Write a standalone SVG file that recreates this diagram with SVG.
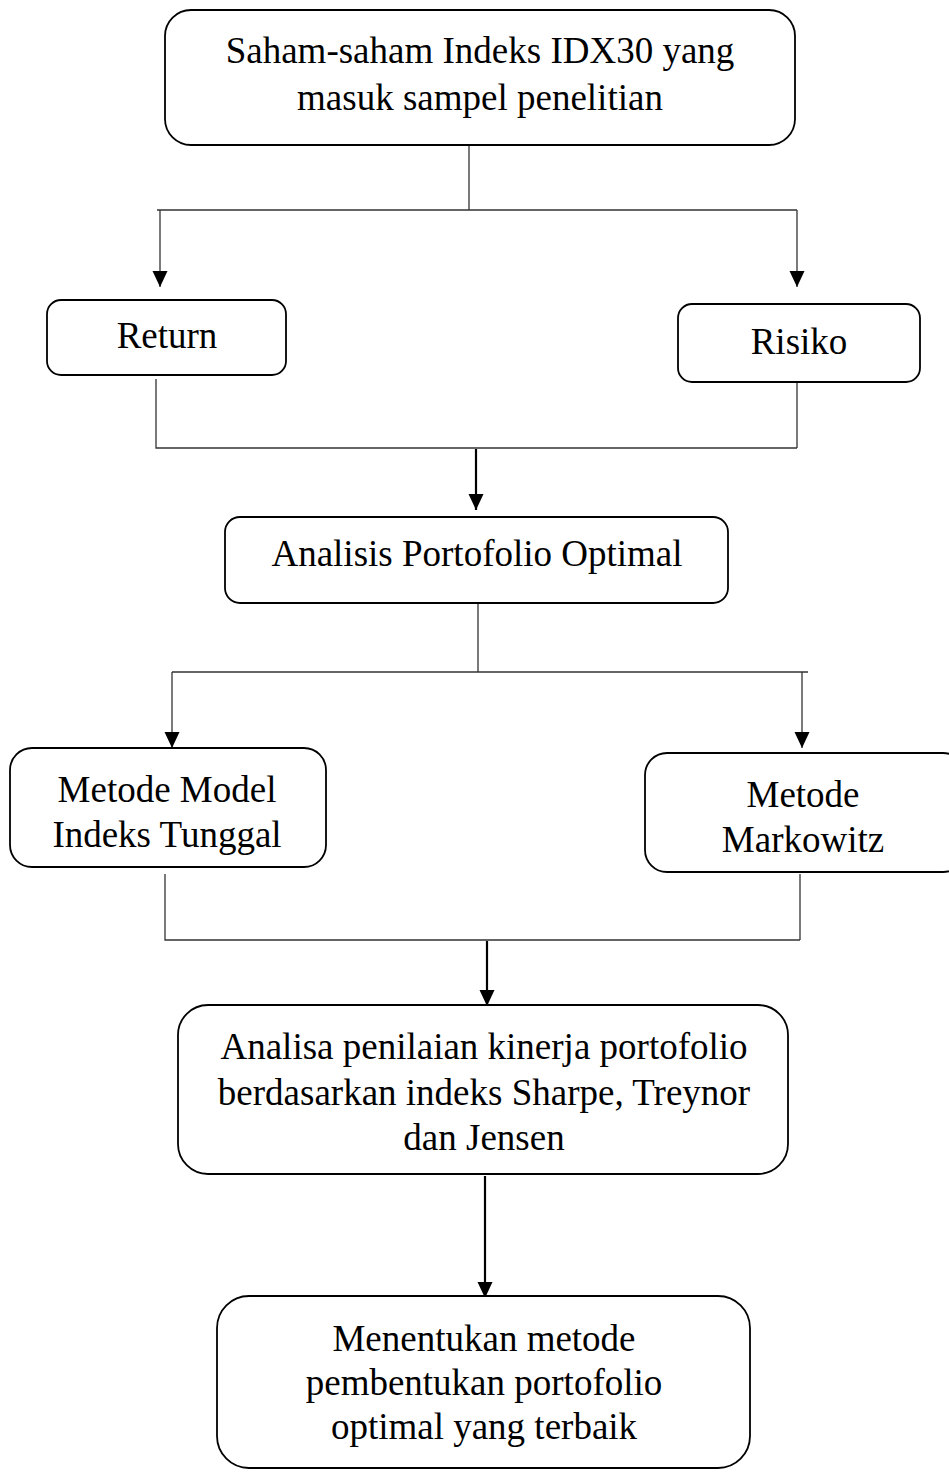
<svg xmlns="http://www.w3.org/2000/svg" width="949" height="1472" viewBox="0 0 949 1472">
<style>
.box{fill:#fff;stroke:#000;stroke-width:1.8}
.t{font-family:"Liberation Serif","Times New Roman",serif;font-size:37px;fill:#000;text-anchor:middle}
.c{fill:none;stroke:#333;stroke-width:1.3}
.ct{fill:none;stroke:#000;stroke-width:2.2}
</style>
<defs>
<marker id="ah" markerUnits="userSpaceOnUse" markerWidth="18" markerHeight="16" refX="16" refY="7.5" orient="auto">
<path d="M0,0 L16,7.5 L0,15 Z" fill="#000"/>
</marker>
</defs>
<rect width="949" height="1472" fill="#fff"/>
<g id="connectors">
<path class="c" d="M469,146 V210 M157,210 H797"/>
<path class="c" d="M160,210 V287" marker-end="url(#ah)"/>
<path class="c" d="M797,210 V287" marker-end="url(#ah)"/>
<path class="c" d="M156,379 V448 H797 M797,383 V448"/>
<path class="ct" d="M476,449 V510" marker-end="url(#ah)"/>
<path class="c" d="M478,604 V672 M172,672 H808"/>
<path class="c" d="M172,672 V748" marker-end="url(#ah)"/>
<path class="c" d="M802,672 V748" marker-end="url(#ah)"/>
<path class="c" d="M165,874 V940 H800 M800,874 V940"/>
<path class="ct" d="M487,941 V1006" marker-end="url(#ah)"/>
<path class="ct" d="M485,1176 V1298" marker-end="url(#ah)"/>
</g>
<g id="n1">
<rect class="box" x="165" y="10" width="630" height="135" rx="26"/>
<text class="t" x="480" y="63">Saham-saham Indeks IDX30 yang</text>
<text class="t" x="480" y="110">masuk sampel penelitian</text>
</g>
<g id="n2">
<rect class="box" x="47" y="300" width="239" height="75" rx="14"/>
<text class="t" x="167" y="348">Return</text>
</g>
<g id="n3">
<rect class="box" x="678" y="304" width="242" height="78" rx="14"/>
<text class="t" x="799" y="354">Risiko</text>
</g>
<g id="n4">
<rect class="box" x="225" y="517" width="503" height="86" rx="15"/>
<text class="t" x="477" y="566">Analisis Portofolio Optimal</text>
</g>
<g id="n5">
<rect class="box" x="10" y="748" width="316" height="119" rx="22"/>
<text class="t" x="167" y="802">Metode Model</text>
<text class="t" x="167" y="847">Indeks Tunggal</text>
</g>
<g id="n6">
<rect class="box" x="645" y="753" width="320" height="119" rx="22"/>
<text class="t" x="803" y="807">Metode</text>
<text class="t" x="803" y="852">Markowitz</text>
</g>
<g id="n7">
<rect class="box" x="178" y="1005" width="610" height="169" rx="30"/>
<text class="t" x="484" y="1059">Analisa penilaian kinerja portofolio</text>
<text class="t" x="484" y="1105">berdasarkan indeks Sharpe, Treynor</text>
<text class="t" x="484" y="1150">dan Jensen</text>
</g>
<g id="n8">
<rect class="box" x="217" y="1296" width="533" height="172" rx="32"/>
<text class="t" x="484" y="1351">Menentukan metode</text>
<text class="t" x="484" y="1395">pembentukan portofolio</text>
<text class="t" x="484" y="1439">optimal yang terbaik</text>
</g>
</svg>
